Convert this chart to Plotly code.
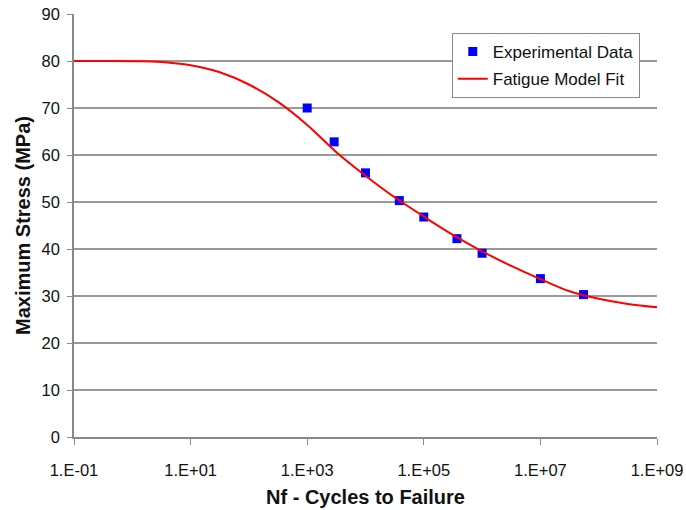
import plotly.graph_objects as go

# Experimental data (cycles to failure, stress MPa)
exp_cycles = [1e3, 2.9e3, 1e4, 3.8e4, 1e5, 3.7e5, 1e6, 1e7, 5.5e7]
exp_stress = [70.0, 62.8, 56.2, 50.3, 46.8, 42.2, 39.1, 33.7, 30.3]

# Fatigue model fit curve
fit_cycles = [1e-1, 10**-0.5, 1e0, 10**0.5, 1e1, 10**1.5, 1e2, 10**2.5, 1e3, 10**3.5,
              1e4, 10**4.5, 1e5, 10**5.5, 1e6, 10**6.5, 1e7, 10**7.5, 1e8, 10**8.5, 1e9]
fit_stress = [80.0, 80.0, 79.95, 79.8, 79.1, 77.6, 75.0, 71.3, 66.4, 60.6,
              55.6, 51.0, 46.9, 43.0, 39.5, 36.4, 33.6, 31.0, 29.4, 28.3, 27.6]

x_tickvals = [1e-1, 1e1, 1e3, 1e5, 1e7, 1e9]
x_ticktext = ["1.E-01", "1.E+01", "1.E+03", "1.E+05", "1.E+07", "1.E+09"]
y_tickvals = [0, 10, 20, 30, 40, 50, 60, 70, 80, 90]

fig = go.Figure()
fig.add_trace(go.Scatter(
    x=exp_cycles, y=exp_stress, mode="markers", name="Experimental Data",
    legendgroup="a",
    marker=dict(symbol="square", size=9, color="#0000FF"),
))
fig.add_trace(go.Scatter(
    x=fit_cycles, y=fit_stress, mode="lines", name="Fatigue Model Fit",
    legendgroup="b",
    line=dict(color="#FF0000", width=2, shape="spline"),
))

font = "Liberation Sans, Arial, sans-serif"
fig.update_layout(
    width=686, height=510,
    margin=dict(l=74, r=29, t=14, b=73),
    paper_bgcolor="white", plot_bgcolor="white",
    font=dict(family=font, size=16.5, color="#111111"),
    showlegend=True,
    legend=dict(
        x=0.648, y=0.955, xanchor="left", yanchor="top",
        bgcolor="white", bordercolor="#888888", borderwidth=1,
        font=dict(size=17, color="#111111"),
        traceorder="grouped", tracegroupgap=2,
    ),
    xaxis=dict(
        type="log", range=[-1, 9], automargin=False,
        tickvals=x_tickvals, ticktext=x_ticktext,
        showgrid=False, zeroline=False,
        showline=True, linecolor="#888888", linewidth=1.5,
        ticks="outside", ticklen=6, tickcolor="#888888",
        ticklabelstandoff=11,
        title=dict(text="<b>Nf - Cycles to Failure</b>", font=dict(size=20), standoff=12),
    ),
    yaxis=dict(
        range=[0, 90], tickvals=y_tickvals, automargin=False,
        showgrid=True, gridcolor="#999999", gridwidth=1.5,
        zeroline=False,
        showline=True, linecolor="#888888", linewidth=1.5,
        ticks="outside", ticklen=5, tickcolor="#888888",
        ticklabelstandoff=4,
        title=dict(text="<b>Maximum Stress (MPa)</b>", font=dict(size=20), standoff=6),
    ),
)

fig.write_html("out.html")
